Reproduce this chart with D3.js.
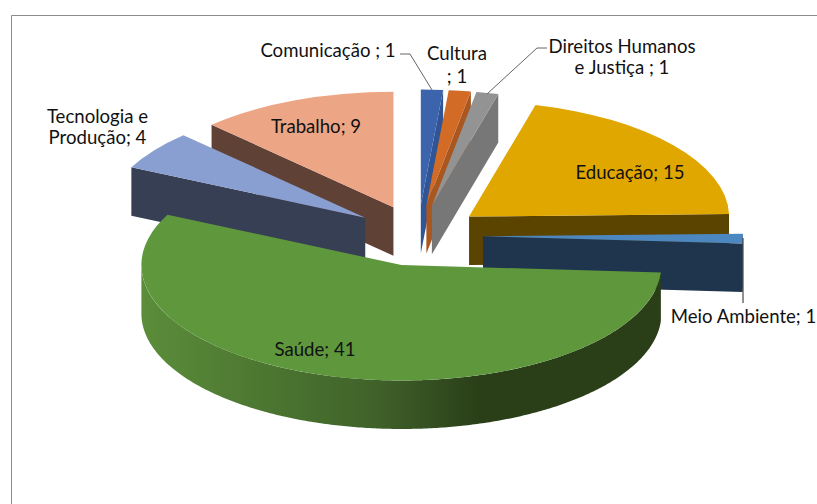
<!DOCTYPE html>
<html>
<head>
<meta charset="utf-8">
<script src="https://cdnjs.cloudflare.com/ajax/libs/d3/7.8.5/d3.min.js"></script>
<style>
    html, body { margin: 0; background: #fff; }
    svg { display: block; }
    text { font-family: Lato, "Open Sans", sans-serif; font-size: 18.6px; fill: #111; text-anchor: middle; }
</style>
</head>
<body>
<script>
const categories = ["Comunicação", "Cultura", "Direitos Humanos e Justiça", "Educação", "Meio Ambiente", "Saúde", "Tecnologia e Produção", "Trabalho"];
const values = [1, 1, 1, 15, 1, 41, 4, 9];
const separators = [" ; ", " ; ", " ; ", "; ", "; ", "; ", "; ", "; "];
const labelBreaks = [0, 7, 16, 0, 0, 0, 12, 0];

const topColors = ["#3b64ad", "#d26b25", "#939393", "#dfa700", "#4d87c0", "#5f973d", "#8a9fd1", "#eca585"];
const wallColors = ["#2f5597", "#a9561f", "#777777", "#5b4300", "#1f354d", "url(#saudeWall)", "#373f55", "#5f4235"];
const labelCenters = [[328, 50], [457, 53], [622, 46], [630, 172], [743.5, 316], [315, 349], [97.5, 116], [316, 126]];
const paintOrder = [7, 6, 0, 1, 2, 3, 4, 5];

const w = 817;
const h = 504;
const rx = 260;
const tilt = 0.444;
const depth = 48.5;
const explode = 65;
const explodeTilt = 0.47;
const cx = 418;
const cy = 235.5;

const svg = d3.select("body").append("svg")
    .attr("width", w)
    .attr("height", h);

// frame of the chart area, cut off at the right and bottom of the picture
svg.append("path")
    .attr("d", "M11.5," + h + "V15.5H" + w)
    .attr("fill", "none")
    .attr("stroke", "#8c8c8c");

const grad = svg.append("defs").append("linearGradient")
    .attr("id", "saudeWall")
    .attr("gradientUnits", "userSpaceOnUse")
    .attr("x1", cx - explode * 0.26 - rx)
    .attr("x2", cx - explode * 0.26 + rx)
    .attr("y1", 0)
    .attr("y2", 0);
[[0, "#5b8d3a"], [0.25, "#4b7530"], [0.45, "#40622a"], [0.654, "#2a3e18"], [1, "#2a3e18"]].forEach(function(s) {
    grad.append("stop").attr("offset", s[0]).attr("stop-color", s[1]);
});

const pie = d3.pie().sort(null);
const arc = d3.arc().innerRadius(0).outerRadius(rx);
const slices = pie(values);

// each slice is pushed out along its middle angle
function apex(d) {
    const mid = (d.startAngle + d.endAngle) / 2;
    return [cx + explode * Math.sin(mid), cy - explode * explodeTilt * Math.cos(mid)];
}

const wall = d3.area()
    .x(function(p) { return p[0]; })
    .y0(function(p) { return p[1]; })
    .y1(function(p) { return p[1] + depth; });

function rimPoint(o, a) {
    return [o[0] + rx * Math.sin(a), o[1] - rx * tilt * Math.cos(a)];
}

paintOrder.forEach(function(i) {
    const d = slices[i];
    const o = apex(d);
    const g = svg.append("g");

    // flat cut faces that turn towards the viewer
    if (Math.sin(d.startAngle) < -1e-6) {
        g.append("path").attr("d", wall([o, rimPoint(o, d.startAngle)])).attr("fill", wallColors[i]);
    }
    if (Math.sin(d.endAngle) > 1e-6) {
        g.append("path").attr("d", wall([o, rimPoint(o, d.endAngle)])).attr("fill", wallColors[i]);
    }

    // curved outer wall, only the front half of the rim shows
    const a0 = Math.max(d.startAngle, Math.PI / 2);
    const a1 = Math.min(d.endAngle, Math.PI * 1.5);
    if (a1 > a0) {
        const pts = d3.range(a0, a1, 0.01).concat([a1]).map(function(a) { return rimPoint(o, a); });
        g.append("path")
            .attr("d", wall(pts))
            .attr("fill", wallColors[i]);
    }

    g.append("path")
        .attr("d", arc(d))
        .attr("transform", "translate(" + o[0] + "," + o[1] + ") scale(1," + tilt + ")")
        .attr("fill", topColors[i]);
});

// leader lines
svg.append("path")
    .attr("d", "M400,54H410L432,90M547,48H537L487,94")
    .attr("fill", "none")
    .attr("stroke", "#666");
svg.append("path")
    .attr("d", "M743,238V303")
    .attr("fill", "none")
    .attr("stroke", "#222");

categories.forEach(function(name, i) {
    const full = name + separators[i] + values[i];
    const lines = labelBreaks[i] ? [full.slice(0, labelBreaks[i]), full.slice(labelBreaks[i]).trim()] : [full];
    const step = i === 1 ? 23 : 21.5;
    lines.forEach(function(line, k) {
        svg.append("text")
            .attr("x", labelCenters[i][0])
            .attr("y", labelCenters[i][1] + k * step)
            .attr("dy", "0.35em")
            .text(line);
    });
});
</script>
</body>
</html>
